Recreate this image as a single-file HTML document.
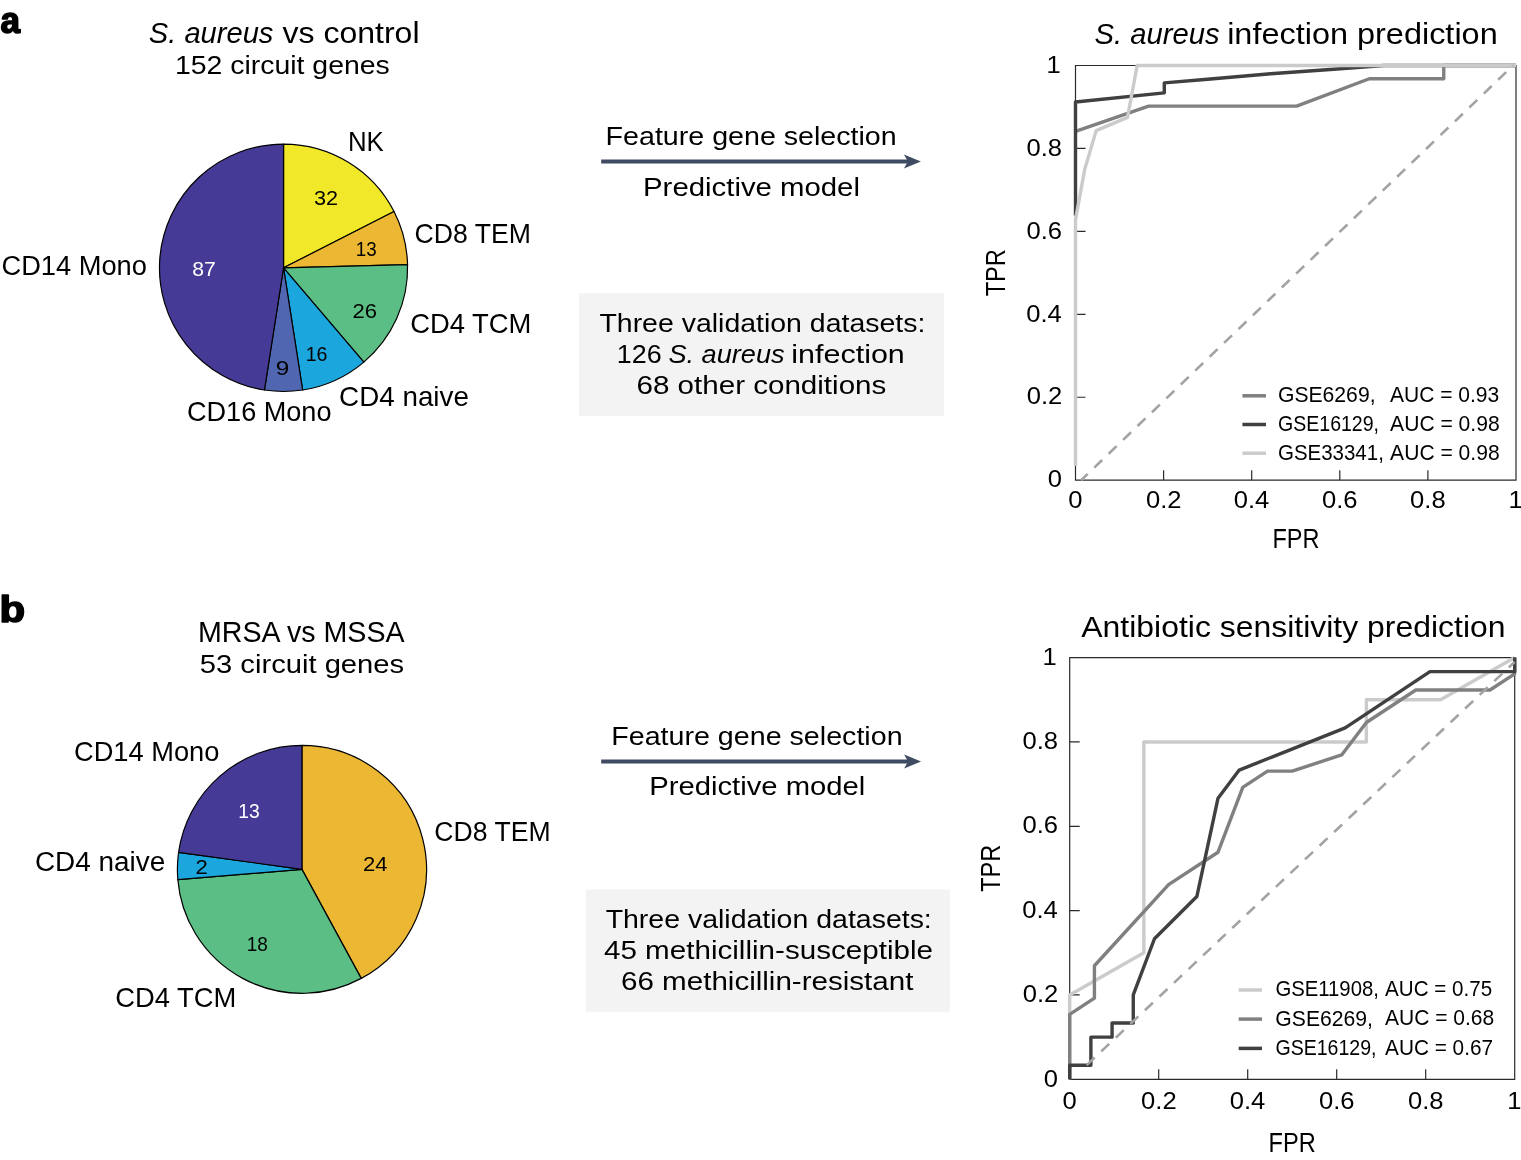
<!DOCTYPE html>
<html><head><meta charset="utf-8"><title>Figure</title><style>html,body{margin:0;padding:0;background:#fff;}svg{display:block;}</style></head><body><svg width="1521" height="1160" viewBox="0 0 1521 1160"><rect x="579" y="293.2" width="365" height="123" fill="#f3f3f3"/><rect x="585.7" y="889.5" width="364.1" height="122.2" fill="#f3f3f3"/><path d="M601.2 161.5H914.9" stroke="#3f4b60" stroke-width="4"/><path d="M920.9 161.5L903.9 154.5L907.9 161.5L903.9 168.5Z" fill="#3f4b60"/><path d="M601.2 761.5H915.1" stroke="#3f4b60" stroke-width="4"/><path d="M921.1 761.5L904.1 754.5L908.1 761.5L904.1 768.5Z" fill="#3f4b60"/><g stroke="#000" stroke-width="1.2" stroke-linejoin="round"><path d="M283.55 267.8L283.55 144.1A124.05 123.7 0 0 1 394.03 211.55Z" fill="#f1e829"/><path d="M283.55 267.8L394.03 211.55A124.05 123.7 0 0 1 407.56 264.61Z" fill="#ecb834"/><path d="M283.55 267.8L407.56 264.61A124.05 123.7 0 0 1 363.83 362.1Z" fill="#5bbe84"/><path d="M283.55 267.8L363.83 362.1A124.05 123.7 0 0 1 302.64 390.03Z" fill="#1ba6dd"/><path d="M283.55 267.8L302.64 390.03A124.05 123.7 0 0 1 264.46 390.03Z" fill="#5066b0"/><path d="M283.55 267.8L264.46 390.03A124.05 123.7 0 0 1 283.55 144.1Z" fill="#453a95"/><path d="M301.95 869.35L301.95 745.4A124.55 123.95 0 0 1 361.23 978.36Z" fill="#ecb834"/><path d="M301.95 869.35L361.23 978.36A124.55 123.95 0 0 1 177.83 879.59Z" fill="#5bbe84"/><path d="M301.95 869.35L177.83 879.59A124.55 123.95 0 0 1 178.58 852.33Z" fill="#1ba6dd"/><path d="M301.95 869.35L178.58 852.33A124.55 123.95 0 0 1 301.95 745.4Z" fill="#453a95"/></g><path d="M1075.5 65.5V480.2H1516V65.5Z" fill="none" stroke="#2a2a2a" stroke-width="1.2"/><path d="M1075.5 397.26h10M1163.6 480.2v-10M1075.5 314.32h10M1251.7 480.2v-10M1075.5 231.38h10M1339.8 480.2v-10M1075.5 148.44h10M1427.9 480.2v-10" stroke="#2a2a2a" stroke-width="1.2"/><path d="M1075.5 131.44 L1148.62 106.14 L1296.63 106.14 L1369.31 78.77 L1443.76 78.77 L1443.76 65.5 L1516 65.5" fill="none" stroke="#808080" stroke-width="3.4" stroke-linejoin="round"/><path d="M1075.5 215.62 L1075.5 101.99 L1164.3 92.87 L1164.3 82.92 L1207.65 79.19 L1270.64 73.79 L1333.63 69.23 L1383.85 65.5 L1516 65.5" fill="none" stroke="#404040" stroke-width="3.4" stroke-linejoin="round"/><path d="M1075.5 466.1 L1075.5 219.77 L1084.75 169.18 L1096.2 130.61 L1127.48 117.34 L1137.17 65.5 L1516 65.5" fill="none" stroke="#cbcbcb" stroke-width="3.4" stroke-linejoin="round"/><path d="M1242.4 395.8H1266" stroke="#808080" stroke-width="3.5"/><path d="M1242.4 424.5H1266" stroke="#404040" stroke-width="3.5"/><path d="M1242.4 453.2H1266" stroke="#cbcbcb" stroke-width="3.5"/><path d="M1069.7 657.6V1079.3H1514.7V657.6Z" fill="none" stroke="#2a2a2a" stroke-width="1.2"/><path d="M1069.7 994.96h10M1158.7 1079.3v-10M1069.7 910.62h10M1247.7 1079.3v-10M1069.7 826.28h10M1336.7 1079.3v-10M1069.7 741.94h10M1425.7 1079.3v-10" stroke="#2a2a2a" stroke-width="1.2"/><path d="M1069.7 1079.3 L1069.7 994.96 L1143.87 952.79 L1143.87 741.94 L1366.37 741.94 L1366.37 699.77 L1440.53 699.77 L1514.7 657.6" fill="none" stroke="#cbcbcb" stroke-width="3.4" stroke-linejoin="round"/><path d="M1069.7 1079.3 L1069.7 1014.42 L1094.42 998.2 L1094.42 965.77 L1168.59 884.67 L1218.03 852.23 L1242.76 787.35 L1267.48 771.13 L1292.2 771.13 L1341.64 754.92 L1366.37 722.48 L1415.81 690.04 L1489.98 690.04 L1514.7 673.82 L1514.7 657.6" fill="none" stroke="#808080" stroke-width="3.4" stroke-linejoin="round"/><path d="M1069.7 1079.3 L1069.7 1065.24 L1090.89 1065.24 L1090.89 1037.13 L1112.08 1037.13 L1112.08 1023.07 L1133.27 1023.07 L1133.27 994.96 L1154.46 938.73 L1196.84 896.56 L1218.03 798.17 L1239.22 770.05 L1345.18 727.88 L1429.94 671.66 L1514.7 671.66 L1514.7 657.6" fill="none" stroke="#404040" stroke-width="3.4" stroke-linejoin="round"/><path d="M1081.1 480.2L1513.05 65.5" stroke="#a3a3a3" stroke-width="2.6" stroke-dasharray="11 9" stroke-dashoffset="1.8"/><path d="M1086.67 1065.11L1514.7 661.9" stroke="#a3a3a3" stroke-width="2.6" stroke-dasharray="11 9"/><path d="M1238.7 990H1262" stroke="#cbcbcb" stroke-width="3.5"/><path d="M1238.7 1019.1H1262" stroke="#808080" stroke-width="3.5"/><path d="M1238.7 1048.4H1262" stroke="#404040" stroke-width="3.5"/><g font-family="'Liberation Sans', Arial, sans-serif"><text transform="translate(0.45 32.8) scale(0.9668 1)" font-size="36.3" stroke="#000" stroke-width="1.6" stroke-linejoin="round"><tspan font-weight="bold">a</tspan></text><text transform="translate(-0.44 622.4) scale(1.1200 1)" font-size="37.5" stroke="#000" stroke-width="1.6" stroke-linejoin="round"><tspan font-weight="bold">b</tspan></text><text transform="translate(148.83 43.4) scale(1.0035 1)" font-size="29"><tspan font-style="italic">S. aureus</tspan></text><text transform="translate(282.48 43.4) scale(1.1051 1)" font-size="29"><tspan>vs control</tspan></text><text transform="translate(174.92 73.5) scale(1.0732 1)" font-size="26.5"><tspan>152 circuit genes</tspan></text><text transform="translate(347.93 150.9) scale(0.9561 1)" font-size="27"><tspan>NK</tspan></text><text transform="translate(414.57 243.3) scale(0.9862 1)" font-size="27"><tspan>CD8 TEM</tspan></text><text transform="translate(1.44 275.2) scale(1.0107 1)" font-size="27"><tspan>CD14 Mono</tspan></text><text transform="translate(410.13 333.3) scale(1.0153 1)" font-size="27"><tspan>CD4 TCM</tspan></text><text transform="translate(339.11 405.5) scale(1.0301 1)" font-size="27"><tspan>CD4 naive</tspan></text><text transform="translate(186.95 421.4) scale(1.0037 1)" font-size="27"><tspan>CD16 Mono</tspan></text><text transform="translate(313.93 205) scale(1.0673 1)" font-size="20.3"><tspan>32</tspan></text><text transform="translate(355.7 256.4) scale(0.9255 1)" font-size="20.3"><tspan>13</tspan></text><text transform="translate(192.25 275.5) scale(1.0432 1)" font-size="20.3" fill="#fff"><tspan>87</tspan></text><text transform="translate(352.4 317.9) scale(1.0866 1)" font-size="20.3"><tspan>26</tspan></text><text transform="translate(305.73 360.5) scale(0.9653 1)" font-size="20.3"><tspan>16</tspan></text><text transform="translate(275.78 374.5) scale(1.1994 1)" font-size="20.3"><tspan>9</tspan></text><text transform="translate(605.61 144.5) scale(1.1013 1)" font-size="26"><tspan>Feature gene selection</tspan></text><text transform="translate(643.05 195.9) scale(1.1289 1)" font-size="26"><tspan>Predictive model</tspan></text><text transform="translate(599.43 331.7) scale(1.0955 1)" font-size="26"><tspan>Three validation datasets:</tspan></text><text transform="translate(616.75 363.2) scale(1.0340 1)" font-size="26"><tspan>126</tspan></text><text transform="translate(668.38 363.2) scale(1.0456 1)" font-size="26"><tspan font-style="italic">S. aureus</tspan></text><text transform="translate(791.26 363.2) scale(1.1731 1)" font-size="26"><tspan>infection</tspan></text><text transform="translate(636.52 394.2) scale(1.1377 1)" font-size="26"><tspan>68 other conditions</tspan></text><text transform="translate(1094.42 43.9) scale(1.0076 1)" font-size="29"><tspan font-style="italic">S. aureus</tspan></text><text transform="translate(1227.13 43.9) scale(1.1194 1)" font-size="29"><tspan>infection prediction</tspan></text><text transform="translate(1004.7 296.37) rotate(-90) scale(0.8397 1)" font-size="28.2"><tspan>TPR</tspan></text><text transform="translate(1272.42 548.3) scale(0.8325 1)" font-size="28.2"><tspan>FPR</tspan></text><text transform="translate(1277.94 402.1) scale(0.9888 1)" font-size="21.4"><tspan>GSE6269,</tspan></text><text transform="translate(1278.02 430.9) scale(0.9132 1)" font-size="21.4"><tspan>GSE16129,</tspan></text><text transform="translate(1277.98 459.9) scale(0.9569 1)" font-size="21.4"><tspan>GSE33341,</tspan></text><text transform="translate(1389.9 401.8) scale(0.9836 1)" font-size="21.4"><tspan>AUC = 0.93</tspan></text><text transform="translate(1390.1 430.6) scale(0.9854 1)" font-size="21.4"><tspan>AUC = 0.98</tspan></text><text transform="translate(1390.1 459.6) scale(0.9854 1)" font-size="21.4"><tspan>AUC = 0.98</tspan></text><text transform="translate(197.91 641.9) scale(0.9872 1)" font-size="29"><tspan>MRSA vs MSSA</tspan></text><text transform="translate(199.83 672.8) scale(1.1010 1)" font-size="26.5"><tspan>53 circuit genes</tspan></text><text transform="translate(73.94 760.7) scale(1.0100 1)" font-size="27"><tspan>CD14 Mono</tspan></text><text transform="translate(34.9 870.6) scale(1.0341 1)" font-size="27"><tspan>CD4 naive</tspan></text><text transform="translate(434.37 841.4) scale(0.9853 1)" font-size="27"><tspan>CD8 TEM</tspan></text><text transform="translate(115.23 1007.4) scale(1.0136 1)" font-size="27"><tspan>CD4 TCM</tspan></text><text transform="translate(238.16 817.8) scale(0.9504 1)" font-size="20.3" fill="#fff"><tspan>13</tspan></text><text transform="translate(195.59 873.5) scale(1.0923 1)" font-size="20.3"><tspan>2</tspan></text><text transform="translate(362.9 870.7) scale(1.0857 1)" font-size="20.3"><tspan>24</tspan></text><text transform="translate(246.68 950.9) scale(0.9355 1)" font-size="20.3"><tspan>18</tspan></text><text transform="translate(611.21 744.7) scale(1.1021 1)" font-size="26"><tspan>Feature gene selection</tspan></text><text transform="translate(649.26 795.3) scale(1.1247 1)" font-size="26"><tspan>Predictive model</tspan></text><text transform="translate(605.63 927.5) scale(1.0958 1)" font-size="26"><tspan>Three validation datasets:</tspan></text><text transform="translate(603.91 959.2) scale(1.1392 1)" font-size="26"><tspan>45 methicillin-susceptible</tspan></text><text transform="translate(621.02 990) scale(1.1374 1)" font-size="26"><tspan>66 methicillin-resistant</tspan></text><text transform="translate(1081.3 637.1) scale(1.1013 1)" font-size="29"><tspan>Antibiotic sensitivity prediction</tspan></text><text transform="translate(1000 891.87) rotate(-90) scale(0.8360 1)" font-size="28.2"><tspan>TPR</tspan></text><text transform="translate(1268.61 1152.4) scale(0.8363 1)" font-size="28.2"><tspan>FPR</tspan></text><text transform="translate(1275.38 996.2) scale(0.9497 1)" font-size="21.4"><tspan>GSE11908,</tspan></text><text transform="translate(1275.34 1025.7) scale(0.9888 1)" font-size="21.4"><tspan>GSE6269,</tspan></text><text transform="translate(1275.42 1054.8) scale(0.9141 1)" font-size="21.4"><tspan>GSE16129,</tspan></text><text transform="translate(1385.1 996.1) scale(0.9627 1)" font-size="21.4"><tspan>AUC = 0.75</tspan></text><text transform="translate(1385.1 1025.4) scale(0.9818 1)" font-size="21.4"><tspan>AUC = 0.68</tspan></text><text transform="translate(1385.1 1054.6) scale(0.9709 1)" font-size="21.4"><tspan>AUC = 0.67</tspan></text><text transform="translate(1047.69 487.4) scale(1.080 1)" font-size="23.7"><tspan>0</tspan></text><text transform="translate(1068.33 508.3) scale(1.080 1)" font-size="23.7"><tspan>0</tspan></text><text transform="translate(1026.7 404.46) scale(1.080 1)" font-size="23.7"><tspan>0.2</tspan></text><text transform="translate(1145.94 508.3) scale(1.080 1)" font-size="23.7"><tspan>0.2</tspan></text><text transform="translate(1026.19 321.52) scale(1.080 1)" font-size="23.7"><tspan>0.4</tspan></text><text transform="translate(1233.78 508.3) scale(1.080 1)" font-size="23.7"><tspan>0.4</tspan></text><text transform="translate(1026.45 238.58) scale(1.080 1)" font-size="23.7"><tspan>0.6</tspan></text><text transform="translate(1322.01 508.3) scale(1.080 1)" font-size="23.7"><tspan>0.6</tspan></text><text transform="translate(1026.45 155.64) scale(1.080 1)" font-size="23.7"><tspan>0.8</tspan></text><text transform="translate(1410.11 508.3) scale(1.080 1)" font-size="23.7"><tspan>0.8</tspan></text><text transform="translate(1046.55 72.7) scale(1.080 1)" font-size="23.7"><tspan>1</tspan></text><text transform="translate(1508.45 508.3) scale(1.080 1)" font-size="23.7"><tspan>1</tspan></text><text transform="translate(1043.69 1086.5) scale(1.080 1)" font-size="23.7"><tspan>0</tspan></text><text transform="translate(1062.53 1109.1) scale(1.080 1)" font-size="23.7"><tspan>0</tspan></text><text transform="translate(1022.7 1002.16) scale(1.080 1)" font-size="23.7"><tspan>0.2</tspan></text><text transform="translate(1141.04 1109.1) scale(1.080 1)" font-size="23.7"><tspan>0.2</tspan></text><text transform="translate(1022.19 917.82) scale(1.080 1)" font-size="23.7"><tspan>0.4</tspan></text><text transform="translate(1229.78 1109.1) scale(1.080 1)" font-size="23.7"><tspan>0.4</tspan></text><text transform="translate(1022.45 833.48) scale(1.080 1)" font-size="23.7"><tspan>0.6</tspan></text><text transform="translate(1318.91 1109.1) scale(1.080 1)" font-size="23.7"><tspan>0.6</tspan></text><text transform="translate(1022.45 749.14) scale(1.080 1)" font-size="23.7"><tspan>0.8</tspan></text><text transform="translate(1407.91 1109.1) scale(1.080 1)" font-size="23.7"><tspan>0.8</tspan></text><text transform="translate(1042.55 664.8) scale(1.080 1)" font-size="23.7"><tspan>1</tspan></text><text transform="translate(1507.15 1109.1) scale(1.080 1)" font-size="23.7"><tspan>1</tspan></text></g></svg></body></html>
